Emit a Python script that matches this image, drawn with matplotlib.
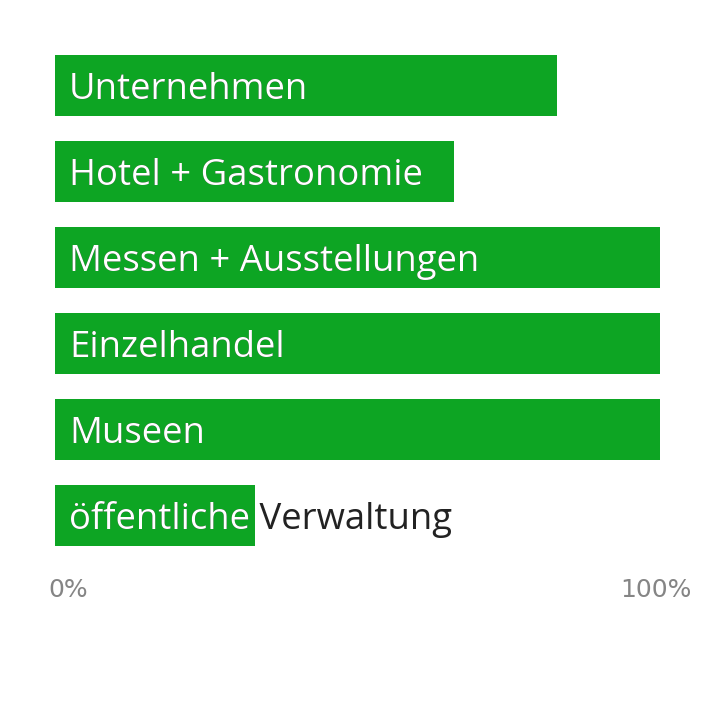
import matplotlib
matplotlib.use("Agg")
import matplotlib.pyplot as plt
import matplotlib.transforms as mtransforms

# Daten
kategorien = ["Unternehmen", "Hotel + Gastronomie", "Messen + Ausstellungen",
              "Einzelhandel", "Museen", "öffentliche Verwaltung"]
werte = [83, 66, 100, 100, 100, 33]
tick_werte = [0, 100]
tick_labels = ["0%", "100%"]

gruen = "#0da523"
h = 0.71

plt.rcParams['font.family'] = ['Open Sans', 'DejaVu Sans']
fig = plt.figure(figsize=(7.2, 7.2), dpi=100)
ax = fig.add_axes([55 / 720, 1 - 546 / 720, 605 / 720, 491 / 720])

pos = list(range(len(kategorien)))
bars = ax.barh(pos, werte, height=h, color=gruen)
ax.set_xlim(0, 100)
ax.set_ylim(len(kategorien) - 1 + h / 2, -h / 2)

pad = mtransforms.ScaledTranslation(14 / 100, 0, fig.dpi_scale_trans)
for y, name, b in zip(pos, kategorien, bars):
    # dunkler Text, darueber weisser Text nur im Balken
    ax.text(0, y, name, color="#222222", fontsize=26.3, va="center_baseline",
            transform=ax.transData + pad)
    t = ax.text(0, y, name, color="white", fontsize=26.3, va="center_baseline",
                transform=ax.transData + pad)
    t.set_clip_box(mtransforms.TransformedBbox(b.get_bbox(), ax.transData))
    t.set_clip_on(True)

ax.set_xticks(tick_werte)
ax.set_xticklabels(tick_labels, color="#858585", fontsize=18, family="DejaVu Sans")
ax.tick_params(axis="x", length=0, pad=23)
ax.set_yticks([])
offsets = [13, -4]
for lab, dx in zip(ax.get_xticklabels(), offsets):
    lab.set_transform(lab.get_transform() +
                      mtransforms.ScaledTranslation(dx / 100, 0, fig.dpi_scale_trans))
for s in ax.spines.values():
    s.set_visible(False)

fig.savefig("out.png", dpi=100)
